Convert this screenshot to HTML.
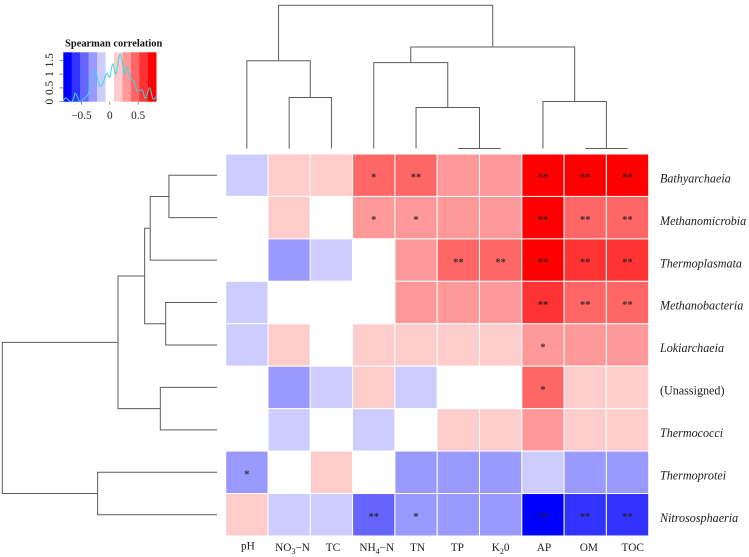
<!DOCTYPE html>
<html>
<head>
<meta charset="utf-8">
<title>Spearman correlation heatmap</title>
<style>
html,body{margin:0;padding:0;background:#fff;width:749px;height:557px;overflow:hidden}
svg{display:block;filter:blur(0.3px)}
text{font-family:"Liberation Serif",serif;fill:#1c1c1c}
</style>
</head>
<body>
<svg id="chart" xmlns="http://www.w3.org/2000/svg" width="749" height="557" viewBox="0 0 749 557">
<g id="heat"></g>
<g id="stars"></g>
<g id="rowlabels"></g>
<g id="collabels"></g>
<g id="topdend" fill="none" stroke="#5c5c5c" stroke-width="1"></g>
<g id="leftdend" fill="none" stroke="#5c5c5c" stroke-width="1"></g>
<g id="legend">
<text x="113.7" y="46.5" text-anchor="middle" font-size="10.4" font-weight="bold" style="fill:#111">Spearman correlation</text>
</g>
</svg>
<script>
const rowLabels = ["Bathyarchaeia","Methanomicrobia","Thermoplasmata","Methanobacteria","Lokiarchaeia","(Unassigned)","Thermococci","Thermoprotei","Nitrososphaeria"];
const rowItalic = [true,true,true,true,true,false,true,true,true];
const colLabels = ["pH","NO_3−N","TC","NH_4−N","TN","TP","K_20","AP","OM","TOC"];
const correlations = [
  [-0.16, 0.15, 0.15, 0.46, 0.47, 0.30, 0.30, 0.76, 0.75, 0.76],
  [ 0.02, 0.16, 0.03, 0.31, 0.32, 0.30, 0.30, 0.73, 0.46, 0.46],
  [ 0.03,-0.30,-0.16, 0.02, 0.31, 0.46, 0.45, 0.72, 0.60, 0.60],
  [-0.16, 0.02, 0.01, 0.02, 0.32, 0.30, 0.30, 0.60, 0.46, 0.46],
  [-0.16, 0.16, 0.02, 0.16, 0.15, 0.15, 0.15, 0.31, 0.30, 0.30],
  [ 0.02,-0.30,-0.16, 0.16,-0.16, 0.03, 0.02, 0.46, 0.15, 0.15],
  [ 0.01,-0.16, 0.02,-0.16, 0.03, 0.15, 0.15, 0.30, 0.15, 0.15],
  [-0.30, 0.03, 0.15, 0.02,-0.30,-0.30,-0.30,-0.16,-0.30,-0.30],
  [ 0.15,-0.16,-0.16,-0.46,-0.30,-0.30,-0.30,-0.76,-0.62,-0.62]
];
const significance = [
  ["","","","*","**","","","**","**","**"],
  ["","","","*","*","","","**","**","**"],
  ["","","","","","**","**","**","**","**"],
  ["","","","","","","","**","**","**"],
  ["","","","","","","","*","",""],
  ["","","","","","","","*","",""],
  ["","","","","","","","","",""],
  ["*","","","","","","","","",""],
  ["","","","**","*","","","**","**","**"]
];
/* dendrogram merges: [childA, childB, distance]; ids below the leaf count are leaves, ids above are earlier merges */
const colMerges = [
  [8,9,0],[5,6,0],[1,2,0.356],[4,11,0.286],[3,13,0.60],[7,10,0.328],[14,15,0.709],[0,12,0.613],[17,16,1]
];
const rowMerges = [
  [0,1,0.224],[9,2,0.311],[3,4,0.239],[10,11,0.337],[5,6,0.264],[12,13,0.461],[7,8,0.556],[14,15,1]
];
/* colour key density trace: value and density */
const densityValues = [-0.82,-0.78,-0.72,-0.67,-0.63,-0.61,-0.57,-0.54,-0.50,-0.46,-0.42,-0.38,-0.34,-0.27,-0.22,-0.18,-0.14,-0.09,-0.05,0,0.05,0.11,0.18,0.26,0.30,0.36,0.43,0.48,0.57,0.63,0.70,0.76,0.81];
const densityHeights = [0.02,0.14,0.05,0,0.17,0.31,0.17,0.02,0,0.11,0.17,0.29,0.65,1.11,0.87,0.59,0.59,0.83,1.04,0.89,1.37,1.01,1.71,1.01,1.25,0.89,0.71,0.39,0.43,0.11,0.51,0.11,0.17];
const keyXTicks = [-0.5,0,0.5];
const keyYTicks = [0,0.5,1,1.5];
const keyMin = -0.82, keyMax = 0.82, keyBins = 11;
const colLabelNudge = [1,3.4,1.5,3,1.5,-1,0,1,3.6,5.2];

const NS = "http://www.w3.org/2000/svg";
const $ = id => document.getElementById(id);
function mk(tag, parent){ const e = document.createElementNS(NS, tag); parent.appendChild(e); return e; }

const gridLeft = 225.7, gridTop = 154, cellW = 42.3, cellH = 42.44;
const colX = i => gridLeft + cellW * i;
const rowY = i => gridTop + cellH * i;

function binLevel(v){
  const w = (keyMax - keyMin) / keyBins;
  let b = Math.floor((v - keyMin) / w);
  b = Math.max(0, Math.min(keyBins - 1, b));
  return b - (keyBins - 1) / 2;
}
function levelColor(l){
  const c = Math.round(255 * (1 - Math.abs(l) / 5));
  return l < 0 ? `rgb(${c},${c},255)` : l > 0 ? `rgb(255,${c},${c})` : "rgb(255,255,255)";
}

/* heatmap cells */
correlations.forEach((row, r) => row.forEach((v, c) => {
  const cell = mk("rect", $("heat"));
  
  
  cell.setAttribute("x", colX(c));
  cell.setAttribute("y", rowY(r));
  cell.setAttribute("width", cellW);
  cell.setAttribute("height", cellH);
  cell.setAttribute("fill", levelColor(binLevel(v)));
  cell.setAttribute("stroke", "#fff");
  cell.setAttribute("stroke-width", "1");
  const s = significance[r][c];
  if (s) {
    const t = mk("text", $("stars"));
    
    
    t.setAttribute("x", colX(c) + cellW / 2);
    t.setAttribute("y", rowY(r) + cellH / 2 + 5.4);
    t.setAttribute("text-anchor", "middle");
    t.setAttribute("font-size", "10.5");
    t.setAttribute("font-weight", "bold");
    t.setAttribute("fill-opacity", "0.85");
    t.textContent = s;
  }
}));

/* row labels */
rowLabels.forEach((name, r) => {
  const t = mk("text", $("rowlabels"));
  
  
  t.setAttribute("x", 660);
  t.setAttribute("y", rowY(r) + cellH / 2 + 7.2);
  t.setAttribute("font-size", "12.1");
  if (rowItalic[r]) t.setAttribute("font-style", "italic");
  t.textContent = name;
});

/* column labels */
colLabels.forEach((name, c) => {
  const t = mk("text", $("collabels"));
  
  
  t.setAttribute("x", colX(c) + cellW / 2 + colLabelNudge[c]);
  t.setAttribute("y", c === 0 ? 549.5 : 551.2);
  t.setAttribute("text-anchor", "middle");
  t.setAttribute("font-size", "11.3");
  const m = name.split("_");
  if (m.length === 1) { t.textContent = name; return; }
  t.appendChild(document.createTextNode(m[0]));
  const sub = mk("tspan", t);
  sub.setAttribute("dy", "3");
  sub.setAttribute("font-size", "8");
  sub.textContent = m[1][0];
  const rest = mk("tspan", t);
  rest.setAttribute("dy", "-3");
  rest.textContent = m[1].slice(1);
});

/* dendrograms */
function drawDendrogram(merges, leafCount, leafPos, distPos, parent, horizontal, name){
  const nodes = [];
  for (let i = 0; i < leafCount; i++) nodes.push({p: leafPos(i), h: 0});
  merges.forEach(m => {
    const a = nodes[m[0]], b = nodes[m[1]], d = distPos(m[2]);
    const da = distPos(a.h), db = distPos(b.h);
    const seg = horizontal
      ? `M${da} ${a.p}H${d}V${b.p}H${db}`
      : `M${a.p} ${da}V${d}H${b.p}V${db}`;
    const path = mk("path", parent);
    
    
    path.setAttribute("d", seg);
    nodes.push({p: (a.p + b.p) / 2, h: m[2]});
  });
}
drawDendrogram(colMerges, colLabels.length, i => colX(i) + cellW / 2, h => 148.5 - h * 143.2, $("topdend"), false, 'column-dendrogram-branch');
drawDendrogram(rowMerges, rowLabels.length, i => rowY(i) + cellH / 2, h => 217 - h * 214.7, $("leftdend"), true, 'row-dendrogram-branch');

/* colour key */
const keyLeft = 63.3, keyRight = 156.3, keyTop = 52.3, keyBottom = 101.7;
const keyX = v => keyLeft + (v - keyMin) / (keyMax - keyMin) * (keyRight - keyLeft);
const keyY = d => keyBottom - d * 27.6;
const lg = $("legend");
for (let i = 0; i < keyBins; i++) {
  const w = (keyMax - keyMin) / keyBins;
  const r = mk("rect", lg);
  
  
  r.setAttribute("x", keyX(keyMin + i * w));
  r.setAttribute("y", keyTop);
  r.setAttribute("width", w / (keyMax - keyMin) * (keyRight - keyLeft) + 0.2);
  r.setAttribute("height", keyBottom - keyTop);
  r.setAttribute("fill", levelColor(i - (keyBins - 1) / 2));
}
const pts = densityValues.map((v, i) => [keyX(v), keyY(densityHeights[i])]);
let dens = `M${pts[0][0]} ${pts[0][1]}`;
for (let i = 0; i < pts.length - 1; i++) {
  const p0 = pts[Math.max(0, i - 1)], p1 = pts[i], p2 = pts[i + 1], p3 = pts[Math.min(pts.length - 1, i + 2)];
  dens += `C${p1[0] + (p2[0] - p0[0]) / 6} ${p1[1] + (p2[1] - p0[1]) / 6} ${p2[0] - (p3[0] - p1[0]) / 6} ${p2[1] - (p3[1] - p1[1]) / 6} ${p2[0]} ${p2[1]}`;
}
const trace = mk("path", lg);


trace.setAttribute("d", dens);
trace.setAttribute("fill", "none");
trace.setAttribute("stroke", "#35d8e8");
trace.setAttribute("stroke-width", "1");

keyXTicks.forEach(v => {
  const l = mk("line", lg);
  
  
  l.setAttribute("x1", keyX(v)); l.setAttribute("x2", keyX(v));
  l.setAttribute("y1", keyBottom); l.setAttribute("y2", keyBottom + 3);
  l.setAttribute("stroke", "#666"); l.setAttribute("stroke-width", "0.7");
  const t = mk("text", lg);
  
  
  t.setAttribute("x", keyX(v));
  t.setAttribute("y", 118.8);
  t.setAttribute("text-anchor", "middle");
  t.setAttribute("font-size", "11.3");
  t.textContent = String(v).replace("-", "−");
});
keyYTicks.forEach(d => {
  const l = mk("line", lg);
  
  
  l.setAttribute("x1", keyLeft - 4); l.setAttribute("x2", keyLeft);
  l.setAttribute("y1", keyY(d)); l.setAttribute("y2", keyY(d));
  l.setAttribute("stroke", "#666"); l.setAttribute("stroke-width", "0.7");
  const t = mk("text", lg);
  
  
  t.setAttribute("transform", `translate(53,${keyY(d)}) rotate(-90)`);
  t.setAttribute("text-anchor", "middle");
  t.setAttribute("font-size", "11.3");
  t.textContent = String(d);
});
</script>
</body>
</html>
